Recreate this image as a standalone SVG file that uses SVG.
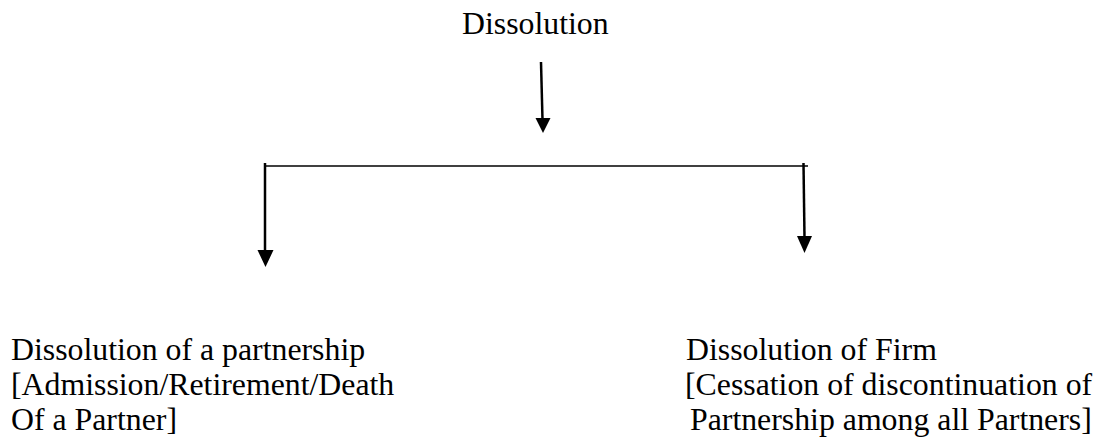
<svg xmlns="http://www.w3.org/2000/svg" width="1103" height="439" viewBox="0 0 1103 439">
<style>
text{font-family:"Liberation Serif","Times New Roman",serif;font-size:31.8px;fill:#000}
.ln{stroke:#000;stroke-width:2.5;fill:none}
.hl{stroke:#000;stroke-width:1.5;fill:none}
</style>
<rect width="1103" height="439" fill="#fff"/>
<g id="connectors">
<line class="ln" x1="541" y1="62" x2="542.5" y2="120"/>
<polygon points="535.5,118 550.5,118 543,133" fill="#000"/>
<line class="hl" x1="265" y1="166" x2="808" y2="166"/>
<line class="ln" x1="265" y1="163" x2="265" y2="252"/>
<polygon points="257.5,250 273.5,250 265.5,267" fill="#000"/>
<line class="ln" x1="803.5" y1="163" x2="804.5" y2="238"/>
<polygon points="797,236 812,236 804.5,253" fill="#000"/>
</g>
<g id="node-root">
<text x="462" y="34">Dissolution</text>
</g>
<g id="node-partnership">
<text x="11" y="360">Dissolution of a partnership</text>
<text x="11" y="395">[Admission/Retirement/Death</text>
<text x="11" y="430">Of a Partner]</text>
</g>
<g id="node-firm">
<text x="686" y="360">Dissolution of Firm</text>
<text x="685" y="395">[Cessation of discontinuation of</text>
<text x="690" y="430">Partnership among all Partners]</text>
</g>
</svg>
